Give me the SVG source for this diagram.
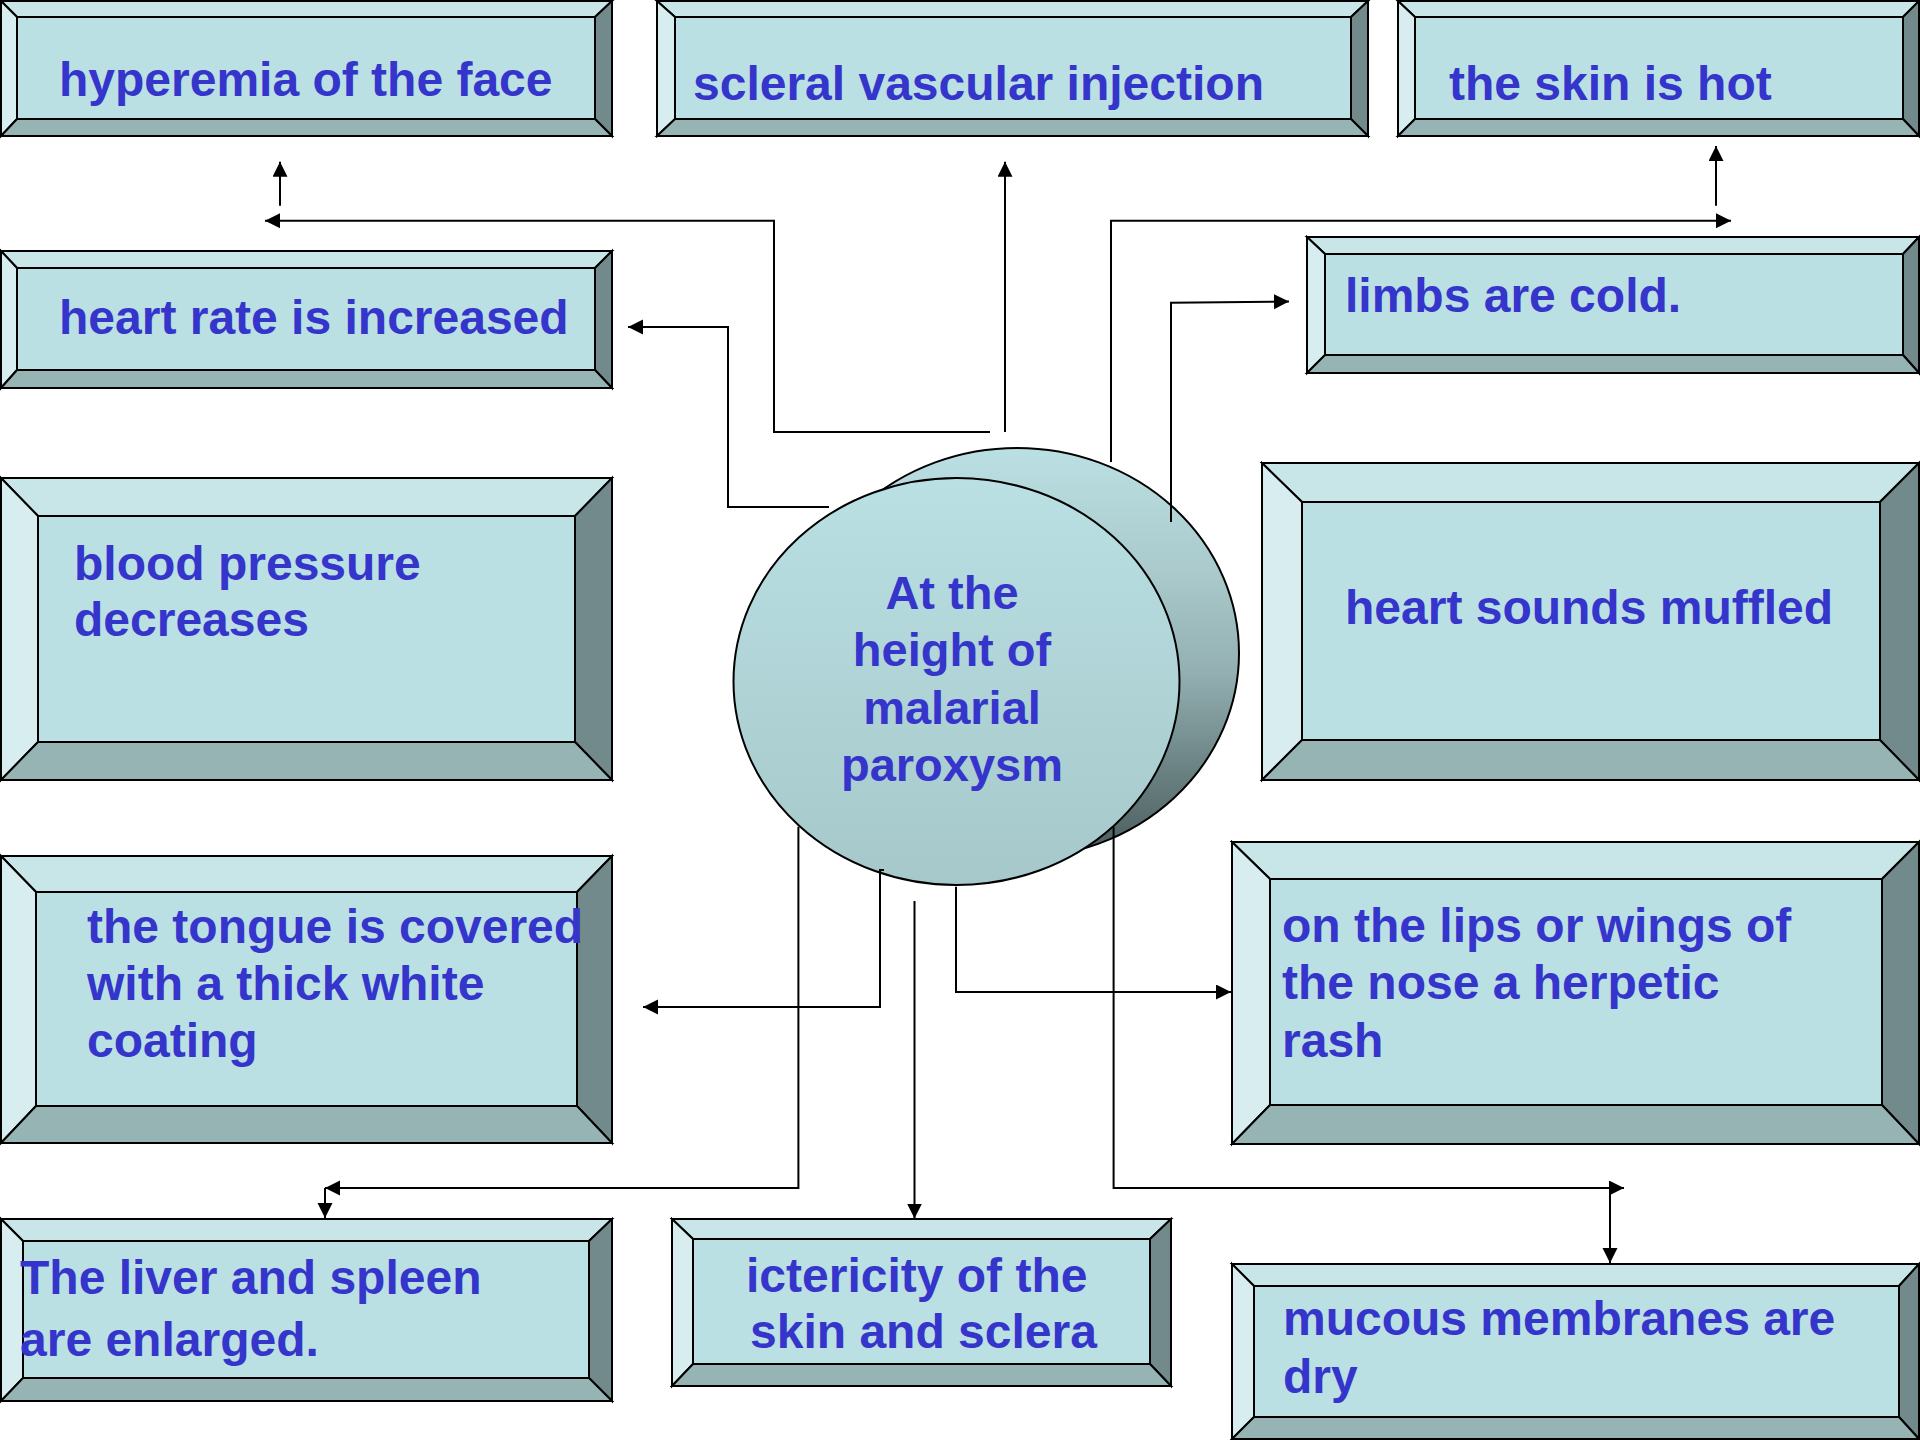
<svg xmlns="http://www.w3.org/2000/svg" width="1920" height="1440" viewBox="0 0 1920 1440">
<defs>
<style>
.top{fill:#c8e6e8}
.lft{fill:#d7edef}
.rgt{fill:#728a8b}
.bot{fill:#97b4b5}
.face{fill:#bae0e3}
.bx polygon,.bx rect{stroke:#000;stroke-width:2;stroke-linejoin:miter}
.t{font-family:"Liberation Sans",Arial,sans-serif;font-weight:bold;font-size:48px;fill:#3535cc}
.ct{font-family:"Liberation Sans",Arial,sans-serif;font-weight:bold;font-size:47px;fill:#3535cc;text-anchor:middle}
.c{fill:none;stroke:#000;stroke-width:2}
</style>
<marker id="ah" markerUnits="userSpaceOnUse" markerWidth="16" markerHeight="16" refX="15" refY="7.5" orient="auto">
<path d="M0,0 L15,7.5 L0,15 Z" fill="#000"/>
</marker>
<linearGradient id="gBack" x1="0" y1="0" x2="0" y2="1">
<stop offset="0" stop-color="#bbe0e3"/>
<stop offset="0.3" stop-color="#aacacc"/>
<stop offset="0.55" stop-color="#93afb1"/>
<stop offset="0.8" stop-color="#687f80"/>
<stop offset="1" stop-color="#4b5c5d"/>
</linearGradient>
<linearGradient id="gFront" x1="0" y1="0" x2="0" y2="1">
<stop offset="0" stop-color="#bae0e3"/>
<stop offset="1" stop-color="#a6c8ca"/>
</linearGradient>
</defs>
<rect width="1920" height="1440" fill="#fff"/>

<g id="n-hyperemia" class="bx">
<polygon class="top" points="1,1 612,1 595,17 17,17"/>
<polygon class="lft" points="1,1 17,17 17,119 1,136"/>
<polygon class="rgt" points="612,1 612,136 595,119 595,17"/>
<polygon class="bot" points="1,136 17,119 595,119 612,136"/>
<rect class="face" x="17" y="17" width="578" height="102"/>
<text class="t" x="59" y="96">hyperemia of the face</text>
</g>

<g id="n-scleral" class="bx">
<polygon class="top" points="657,1 1368,1 1351,17 675,17"/>
<polygon class="lft" points="657,1 675,17 675,119 657,136"/>
<polygon class="rgt" points="1368,1 1368,136 1351,119 1351,17"/>
<polygon class="bot" points="657,136 675,119 1351,119 1368,136"/>
<rect class="face" x="675" y="17" width="676" height="102"/>
<text class="t" x="693" y="100">scleral vascular injection</text>
</g>

<g id="n-skinhot" class="bx">
<polygon class="top" points="1398,1 1919,1 1903,17 1415,17"/>
<polygon class="lft" points="1398,1 1415,17 1415,119 1398,136"/>
<polygon class="rgt" points="1919,1 1919,136 1903,119 1903,17"/>
<polygon class="bot" points="1398,136 1415,119 1903,119 1919,136"/>
<rect class="face" x="1415" y="17" width="488" height="102"/>
<text class="t" x="1449" y="100">the skin is hot</text>
</g>

<g id="n-heartrate" class="bx">
<polygon class="top" points="1,251 612,251 595,268 17,268"/>
<polygon class="lft" points="1,251 17,268 17,370 1,388"/>
<polygon class="rgt" points="612,251 612,388 595,370 595,268"/>
<polygon class="bot" points="1,388 17,370 595,370 612,388"/>
<rect class="face" x="17" y="268" width="578" height="102"/>
<text class="t" x="59" y="334">heart rate is increased</text>
</g>

<g id="n-limbs" class="bx">
<polygon class="top" points="1307,237 1919,237 1903,254 1325,254"/>
<polygon class="lft" points="1307,237 1325,254 1325,355 1307,373"/>
<polygon class="rgt" points="1919,237 1919,373 1903,355 1903,254"/>
<polygon class="bot" points="1307,373 1325,355 1903,355 1919,373"/>
<rect class="face" x="1325" y="254" width="578" height="101"/>
<text class="t" x="1345" y="312">limbs are cold.</text>
</g>

<g id="n-bloodpressure" class="bx">
<polygon class="top" points="1,478 612,478 575,516 38,516"/>
<polygon class="lft" points="1,478 38,516 38,742 1,780"/>
<polygon class="rgt" points="612,478 612,780 575,742 575,516"/>
<polygon class="bot" points="1,780 38,742 575,742 612,780"/>
<rect class="face" x="38" y="516" width="537" height="226"/>
<text class="t" x="74" y="580">blood pressure</text>
<text class="t" x="74" y="636">decreases</text>
</g>

<g id="n-heartsounds" class="bx">
<polygon class="top" points="1262,463 1919,463 1880,502 1302,502"/>
<polygon class="lft" points="1262,463 1302,502 1302,740 1262,780"/>
<polygon class="rgt" points="1919,463 1919,780 1880,740 1880,502"/>
<polygon class="bot" points="1262,780 1302,740 1880,740 1919,780"/>
<rect class="face" x="1302" y="502" width="578" height="238"/>
<text class="t" x="1345" y="624">heart sounds muffled</text>
</g>

<g id="n-tongue" class="bx">
<polygon class="top" points="1,856 612,856 577,892 36,892"/>
<polygon class="lft" points="1,856 36,892 36,1106 1,1143"/>
<polygon class="rgt" points="612,856 612,1143 577,1106 577,892"/>
<polygon class="bot" points="1,1143 36,1106 577,1106 612,1143"/>
<rect class="face" x="36" y="892" width="541" height="214"/>
<text class="t" x="87" y="943">the tongue is covered</text>
<text class="t" x="87" y="1000">with a thick white</text>
<text class="t" x="87" y="1057">coating</text>
</g>

<g id="n-lips" class="bx">
<polygon class="top" points="1232,842 1919,842 1882,879 1270,879"/>
<polygon class="lft" points="1232,842 1270,879 1270,1105 1232,1144"/>
<polygon class="rgt" points="1919,842 1919,1144 1882,1105 1882,879"/>
<polygon class="bot" points="1232,1144 1270,1105 1882,1105 1919,1144"/>
<rect class="face" x="1270" y="879" width="612" height="226"/>
<text class="t" x="1282" y="942">on the lips or wings of</text>
<text class="t" x="1282" y="999">the nose a herpetic</text>
<text class="t" x="1282" y="1057">rash</text>
</g>

<g id="n-liver" class="bx">
<polygon class="top" points="1,1219 612,1219 589,1241 23,1241"/>
<polygon class="lft" points="1,1219 23,1241 23,1378 1,1401"/>
<polygon class="rgt" points="612,1219 612,1401 589,1378 589,1241"/>
<polygon class="bot" points="1,1401 23,1378 589,1378 612,1401"/>
<rect class="face" x="23" y="1241" width="566" height="137"/>
<text class="t" x="20" y="1294">The liver and spleen</text>
<text class="t" x="20" y="1356">are enlarged.</text>
</g>

<g id="n-icterity" class="bx">
<polygon class="top" points="672,1219 1171,1219 1150,1239 693,1239"/>
<polygon class="lft" points="672,1219 693,1239 693,1364 672,1386"/>
<polygon class="rgt" points="1171,1219 1171,1386 1150,1364 1150,1239"/>
<polygon class="bot" points="672,1386 693,1364 1150,1364 1171,1386"/>
<rect class="face" x="693" y="1239" width="457" height="125"/>
<text class="t" x="746" y="1292">ictericity of the</text>
<text class="t" x="750" y="1348">skin and sclera</text>
</g>

<g id="n-mucous" class="bx">
<polygon class="top" points="1232,1264 1919,1264 1899,1286 1254,1286"/>
<polygon class="lft" points="1232,1264 1254,1286 1254,1417 1232,1439"/>
<polygon class="rgt" points="1919,1264 1919,1439 1899,1417 1899,1286"/>
<polygon class="bot" points="1232,1439 1254,1417 1899,1417 1919,1439"/>
<rect class="face" x="1254" y="1286" width="645" height="131"/>
<text class="t" x="1283" y="1335">mucous membranes are</text>
<text class="t" x="1283" y="1393">dry</text>
</g>

<g id="n-center">
<ellipse cx="1017" cy="653" rx="222" ry="205" fill="url(#gBack)" stroke="#000" stroke-width="2"/>
<ellipse cx="956.5" cy="681.5" rx="223" ry="203.5" fill="url(#gFront)" stroke="#000" stroke-width="2"/>
<text class="ct" x="952" y="609">At the</text>
<text class="ct" x="952" y="666">height of</text>
<text class="ct" x="952" y="723.5">malarial</text>
<text class="ct" x="952" y="781">paroxysm</text>
</g>

<g id="connectors">
<polyline class="c" points="990,432 774,432 774,220.7 265,220.7" marker-end="url(#ah)"/>
<line class="c" x1="280" y1="205.7" x2="280" y2="161.7" marker-end="url(#ah)"/>
<line class="c" x1="1005" y1="432" x2="1005" y2="161.7" marker-end="url(#ah)"/>
<polyline class="c" points="829,507 728,507 728,327 628,327" marker-end="url(#ah)"/>
<polyline class="c" points="1111,462 1111,220.7 1731,220.7" marker-end="url(#ah)"/>
<line class="c" x1="1716" y1="205.7" x2="1716" y2="146" marker-end="url(#ah)"/>
<polyline class="c" points="1171,522 1171,302.7 1289,301.5" marker-end="url(#ah)"/>
<polyline class="c" points="798.4,826.7 798.4,1188 325,1188" marker-end="url(#ah)"/>
<line class="c" x1="325" y1="1188" x2="325" y2="1218" marker-end="url(#ah)"/>
<polyline class="c" points="884,870 880,870 880,1007 643,1007" marker-end="url(#ah)"/>
<line class="c" x1="914.5" y1="901" x2="914.5" y2="1218.5" marker-end="url(#ah)"/>
<polyline class="c" points="956,886.7 956,992 1231,992" marker-end="url(#ah)"/>
<polyline class="c" points="1113.6,826.7 1113.6,1188 1624,1188" marker-end="url(#ah)"/>
<line class="c" x1="1610" y1="1188" x2="1610" y2="1263" marker-end="url(#ah)"/>
</g>
</svg>
